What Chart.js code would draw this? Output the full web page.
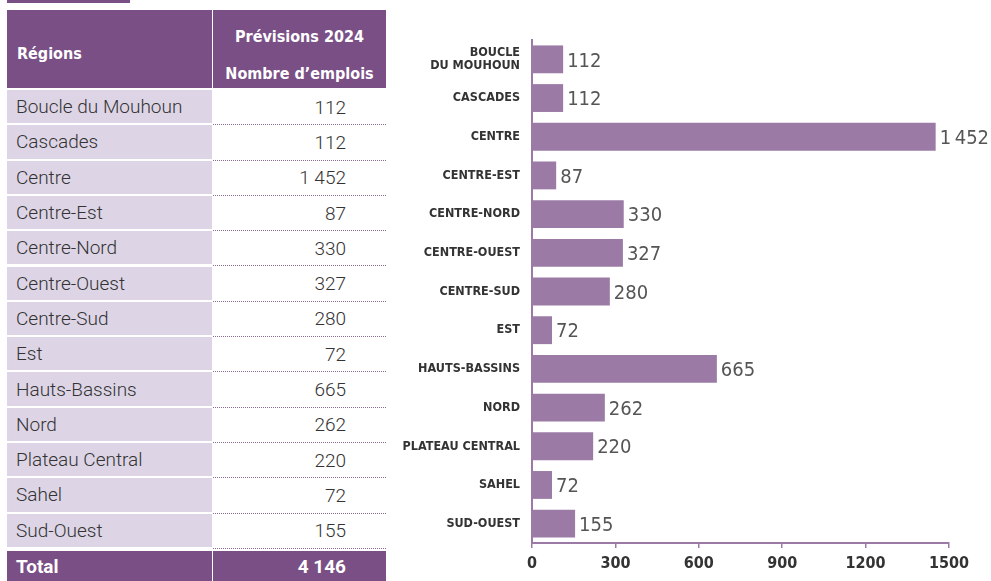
<!DOCTYPE html>
<html lang="fr">
<head>
<meta charset="utf-8">
<title>Prévisions 2024 – Nombre d'emplois par région</title>
<script src="https://cdn.jsdelivr.net/npm/chart.js@4/dist/chart.umd.min.js"></script>
<style>
  html, body { margin: 0; padding: 0; background: #fff; }
  body { width: 991px; height: 581px; position: relative; overflow: hidden; font-family: Roboto, "Noto Sans", sans-serif; }
  .tab { position: absolute; left: 7px; top: 0; height: 3px; width: 123px; background: #7a4f86; }
  .cell { position: absolute; box-sizing: border-box; display: flex; align-items: center; }
  .head { background: #7a4f86; color: #fff; font-family: "Liberation Sans Narrow", "DejaVu Sans Condensed", sans-serif; font-weight: bold; font-size: 16px; }
  .name { left: 7px; width: 205px; background: #ddd5e6; color: #333; font-size: 19px; font-weight: 300; padding-left: 9px; }
  .val { left: 213px; width: 173px; color: #333; font-size: 19px; font-weight: 300; justify-content: flex-end; padding-right: 40px; border-bottom: 1px dotted #8a6a95; }
  .tot { background: #7a4f86; color: #fff; font-weight: bold; font-size: 19px; }
  #wrap { position: absolute; left: 390px; top: 0; width: 601px; height: 581px; }
</style>
</head>
<body>
<div class="tab"></div>
<div id="table"></div>
<div id="wrap"><canvas id="chart" width="601" height="581"></canvas></div>
<script>
// regions, short axis labels and job forecasts for 2024
const regions = ['Boucle du Mouhoun', 'Cascades', 'Centre', 'Centre-Est', 'Centre-Nord', 'Centre-Ouest', 'Centre-Sud', 'Est', 'Hauts-Bassins', 'Nord', 'Plateau Central', 'Sahel', 'Sud-Ouest'];
const axisLabels = [['BOUCLE', 'DU MOUHOUN'], 'CASCADES', 'CENTRE', 'CENTRE-EST', 'CENTRE-NORD', 'CENTRE-OUEST', 'CENTRE-SUD', 'EST', 'HAUTS-BASSINS', 'NORD', 'PLATEAU CENTRAL', 'SAHEL', 'SUD-OUEST'];
const emplois = [112, 112, 1452, 87, 330, 327, 280, 72, 665, 262, 220, 72, 155];
const xTicks = [0, 300, 600, 900, 1200, 1500];

const PURPLE = '#7a4f86';
const BAR = '#9b7ba6';

function fmt(n) {
  return String(n).replace(/\B(?=(\d{3})+(?!\d))/g, '\u202f');
}

// table on the left
const tbl = document.getElementById('table');
function add(cls, style, html) {
  const d = document.createElement('div');
  d.className = 'cell ' + cls;
  d.setAttribute('style', style);
  d.innerHTML = html;
  tbl.appendChild(d);
}
add('head', 'left:7px;top:10px;width:205px;height:78px;padding-left:10px;padding-top:9px;', 'Régions');
add('head', 'left:213px;top:10px;width:173px;height:78px;flex-direction:column;justify-content:center;line-height:37px;padding-top:12px;',
    '<span>Prévisions 2024</span><span>Nombre d’emplois</span>');
const rowH = 35.3;
regions.forEach((r, i) => {
  const top = 90 + i * rowH;
  add('name', `top:${top}px;height:${rowH - 2}px;`, r);
  add('val', `top:${top}px;height:${rowH}px;`, fmt(emplois[i]).replace('\u202f', ' '));
});
const total = emplois.reduce((a, b) => a + b, 0);
add('tot', 'left:7px;top:551px;width:205px;height:30px;padding-left:9px;', 'Total');
add('tot', 'left:213px;top:551px;width:173px;height:30px;justify-content:flex-end;padding-right:40px;', fmt(total).replace('\u202f', ' '));

const condensed = '"Liberation Sans Narrow", "DejaVu Sans Condensed", sans-serif';

// value labels at the end of each bar
const valueLabels = {
  id: 'valueLabels',
  afterDatasetsDraw(chart) {
    const ctx = chart.ctx;
    const meta = chart.getDatasetMeta(0);
    ctx.save();
    ctx.font = '300 20px ' + condensed;
    ctx.fillStyle = '#555';
    ctx.textBaseline = 'middle';
    meta.data.forEach((bar, i) => {
      const v = chart.data.datasets[0].data[i];
      ctx.fillText(fmt(v), bar.x + 4, bar.y + 2);
    });
    ctx.restore();
  }
};

new Chart(document.getElementById('chart'), {
  type: 'bar',
  data: {
    labels: axisLabels,
    datasets: [{
      data: emplois,
      backgroundColor: BAR,
      borderWidth: 0,
      barPercentage: 0.72,
      categoryPercentage: 1
    }]
  },
  options: {
    indexAxis: 'y',
    responsive: false,
    animation: false,
    layout: { padding: { top: 40, right: 42, left: 0, bottom: 0 } },
    plugins: { legend: { display: false }, tooltip: { enabled: false } },
    scales: {
      x: {
        min: 0, max: 1500,
        afterBuildTicks: axis => { axis.ticks = xTicks.map(v => ({ value: v })); },
        afterFit: axis => { axis.height = 38; },
        grid: { display: true, drawOnChartArea: false, drawTicks: true, tickLength: 5, color: BAR, lineWidth: 1.5 },
        border: { display: true, color: BAR, width: 2 },
        ticks: {
          color: '#333', padding: 6, maxRotation: 0, autoSkip: false,
          callback: v => String(v),
          font: { family: condensed, weight: 'bold', size: 16 }
        }
      },
      y: {
        afterFit: axis => { axis.width = 142; },
        grid: { display: false },
        border: { display: true, color: BAR, width: 2 },
        ticks: { color: '#333', padding: 4, autoSkip: false, font: { family: condensed, weight: 'bold', size: 12.5, lineHeight: 1.1 } }
      }
    }
  },
  plugins: [valueLabels]
});
</script>
</body>
</html>
